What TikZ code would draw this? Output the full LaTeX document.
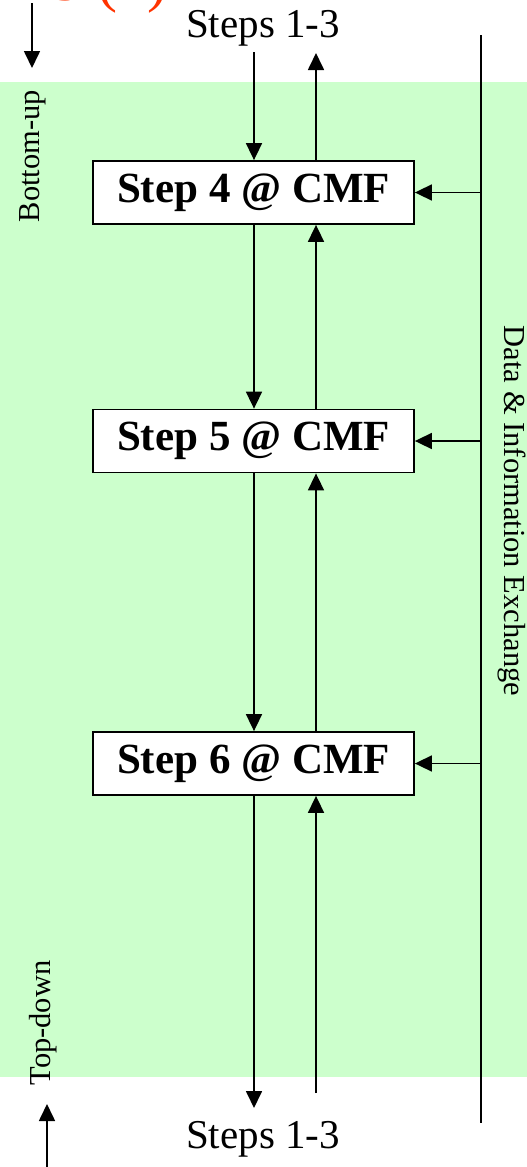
\documentclass[tikz,border=0pt]{standalone}
\usepackage{fontspec}
\setmainfont{Liberation Serif}
\usetikzlibrary{arrows.meta}
\definecolor{bggreen}{HTML}{CCFFCC}
\definecolor{titlered}{HTML}{FF3300}
\tikzset{
  stepbox/.style={draw=black, line width=1.8pt, fill=white, minimum width=321pt, minimum height=63pt, inner sep=0pt, font=\fontsize{43}{47}\selectfont\bfseries},
  flow/.style={line width=1.7pt, -{Triangle[length=17pt,width=16pt]}},
  plain/.style={line width=1.7pt},
  steplabel/.style={font=\fontsize{41}{44}\selectfont, inner sep=0pt},
  sidelabel/.style={font=\fontsize{30.5}{33}\selectfont, inner sep=0pt}
}
\begin{document}
\begin{tikzpicture}[x=1pt,y=-1pt]
\useasboundingbox (0,0) rectangle (527,1167);
% background
\fill[bggreen] (0,82) rectangle (527,1077);
% clipped title fragment (only its lowest part is on the page)
\node[anchor=base east, text=titlered, font=\fontsize{60}{64}\selectfont, inner sep=0pt] (title) at (168,0.5) {ES (2)};
% boxes
\node[stepbox] (b4) at (253.5,192.5) {Step 4 @ CMF};
\node[stepbox] (b5) at (253.5,441) {Step 5 @ CMF};
\node[stepbox] (b6) at (253.5,763.5) {Step 6 @ CMF};
% steps labels
\node[steplabel, anchor=base] (top) at (263,37) {Steps 1-3};
\node[steplabel, anchor=base] (bot) at (263,1148) {Steps 1-3};
% side labels
\node[sidelabel, rotate=90] (bu) at (33,156) {Bottom-up};
\node[sidelabel, rotate=90] (td) at (43,1023) {Top-down};
\node[sidelabel, rotate=-90] (dx) at (512,511) {Data \& Information Exchange};
% coordinates
\coordinate (dtop) at (254,52);
\coordinate (utop) at (316,53);
\coordinate (dbot) at (254,1108);
\coordinate (ubot) at (316,1093);
\coordinate (r1) at (481,35);
\coordinate (r2) at (481,1123);
\coordinate (la1) at (32,3);
\coordinate (la2) at (32,68);
\coordinate (lb1) at (47,1167);
\coordinate (lb2) at (47,1104);
% down flow
\draw[flow] (dtop) -- (dtop |- b4.north);
\draw[flow] (dtop |- b4.south) -- (dtop |- b5.north);
\draw[flow] (dtop |- b5.south) -- (dtop |- b6.north);
\draw[flow] (dtop |- b6.south) -- (dbot);
% up flow
\draw[flow] (ubot) -- (utop |- b6.south);
\draw[flow] (utop |- b6.north) -- (utop |- b5.south);
\draw[flow] (utop |- b5.north) -- (utop |- b4.south);
\draw[flow] (utop |- b4.north) -- (utop);
% exchange line
\draw[plain] (r1) -- (r2);
\draw[flow] (r1 |- b4.east) -- (b4.east);
\draw[flow] (r1 |- b5.east) -- (b5.east);
\draw[flow] (r1 |- b6.east) -- (b6.east);
% direction arrows
\draw[flow] (la1) -- (la2);
\draw[flow] (lb1) -- (lb2);
\end{tikzpicture}
\end{document}
